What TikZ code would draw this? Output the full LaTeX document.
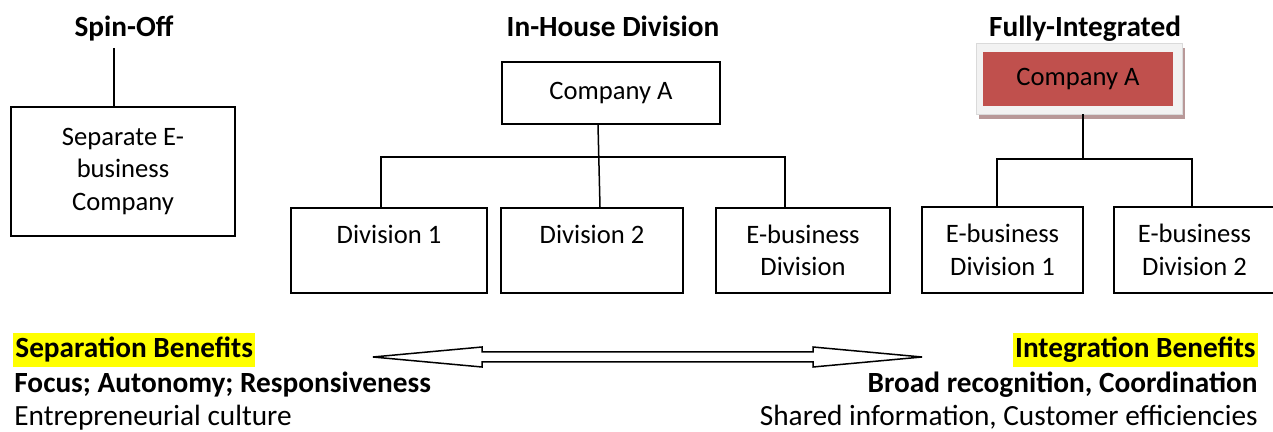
\documentclass[tikz,border=0pt]{standalone}
\usepackage{fontspec}
\setmainfont{Carlito}
\usepackage{tikz}
\usetikzlibrary{positioning, shadows}
\definecolor{boxred}{RGB}{192,80,77}
\definecolor{framegray}{RGB}{242,242,242}
\definecolor{shadowred}{RGB}{184,152,152}
\definecolor{hiliteyellow}{RGB}{255,255,0}
\newcommand{\boxsize}{\fontsize{13.3}{16.2}\selectfont}
\newcommand{\textsize}{\fontsize{14.65}{17.5}\selectfont}
\tikzset{
	unit/.style={
			rectangle, draw=black, thick, align=center, inner sep=2pt, text centered,
			font=\boxsize},
	title/.style={font=\textsize\bfseries, inner sep=0pt},
	hilite/.style={font=\textsize\bfseries, fill=hiliteyellow, inner xsep=1pt, inner ysep=0pt,
			text height=12pt, text depth=5pt},
	boldtxt/.style={font=\textsize\bfseries, inner sep=0pt},
	plaintxt/.style={font=\textsize, inner sep=0pt},
	link/.style={draw=black, line width=0.75pt},
		}

\begin{document}
\begin{tikzpicture} [x=0.5pt, y=-0.5pt]
		\useasboundingbox (0,0) rectangle (1273,432);

		% titles
		\node[title, anchor=base] (spin) at (124,36.5) {Spin-Off};
		\node[title, anchor=base] (inhouse) at (613,36.5) {In-House Division};
		\node[title, anchor=base] (fully) at (1085,36.5) {Fully-Integrated};

		% spin-off
		\node[unit, minimum width=112pt, minimum height=64.5pt] (sep) at (123,171.5)
			{Separate E-\\business\\Company};
		\coordinate (spinfoot) at (114,48);
		\draw[link] (spinfoot) -- (spinfoot |- sep.north);

		% in-house division
		\node[unit, minimum width=109pt, minimum height=31pt] (compA) at (611,93) {Company A};
		\node[unit, minimum width=98pt, minimum height=42.5pt] (div1) at (389,250.5)
			{Division 1\\\phantom{D}};
		\node[unit, minimum width=91pt, minimum height=42.5pt] (div2) at (592,250.5)
			{Division 2\\\phantom{D}};
		\node[unit, minimum width=87pt, minimum height=42.5pt] (ebiz) at (803,250.5)
			{E-business\\Division};
		\coordinate (busL) at (381,157);
		\coordinate (busR) at (785,157);
		\draw[link] ([xshift=-6.5pt]compA.south) -- ([xshift=4pt]div2.north);
		\draw[link] (busL |- div1.north) -- (busL) -- (busR) -- (busR |- ebiz.north);

		% fully-integrated
		\node[rectangle, draw=framegray!90!black, line width=0.3pt, fill=framegray,
			minimum width=103pt, minimum height=35.5pt,
			drop shadow={shadow xshift=1.5pt, shadow yshift=-2.5pt, fill=shadowred, opacity=1}]
			(frame) at (1079,78.5) {};
		\node[rectangle, fill=boxred, minimum width=95pt, minimum height=27pt, font=\boxsize]
			(compB) at (1078,79) {Company A};
		\node[unit, minimum width=80.5pt, minimum height=43pt] (ediv1) at (1002.5,250)
			{E-business\\Division 1};
		\node[unit, minimum width=80.5pt, minimum height=43pt] (ediv2) at (1194.5,250)
			{E-business\\Division 2};
		\coordinate (hub) at (1083,159);
		\coordinate (hubL) at (997,159);
		\coordinate (hubR) at (1192,159);
		\draw[link] (hub |- frame.south) -- (hub);
		\draw[link] (hubL |- ediv1.north) -- (hubL) -- (hubR) -- (hubR |- ediv2.north);

		% benefits
		\node[hilite, anchor=base west] (sepben) at (13,357.5) {Separation Benefits};
		\node[boldtxt, anchor=base west] (sepfocus) at (14,392.5) {Focus; Autonomy; Responsiveness};
		\node[plaintxt, anchor=base west] (sepcult) at (14,425) {Entrepreneurial culture};
		\node[hilite, anchor=base east] (intben) at (1258,357.5) {Integration Benefits};
		\node[boldtxt, anchor=base east] (intrecog) at (1258,392.5) {Broad recognition, Coordination};
		\node[plaintxt, anchor=base east] (intinfo) at (1258,425) {Shared information, Customer efficiencies};

		% double arrow
		\coordinate (arrL) at (373,357);
		\coordinate (arrR) at (922,357);
		\draw[line width=0.75pt, fill=white] (arrL) -- (482,347) -- (482,352) -- (813,352)
			-- (813,347) -- (arrR) -- (813,367) -- (813,362) -- (482,362) -- (482,367) -- cycle;
%
\end{tikzpicture}
\end{document}
